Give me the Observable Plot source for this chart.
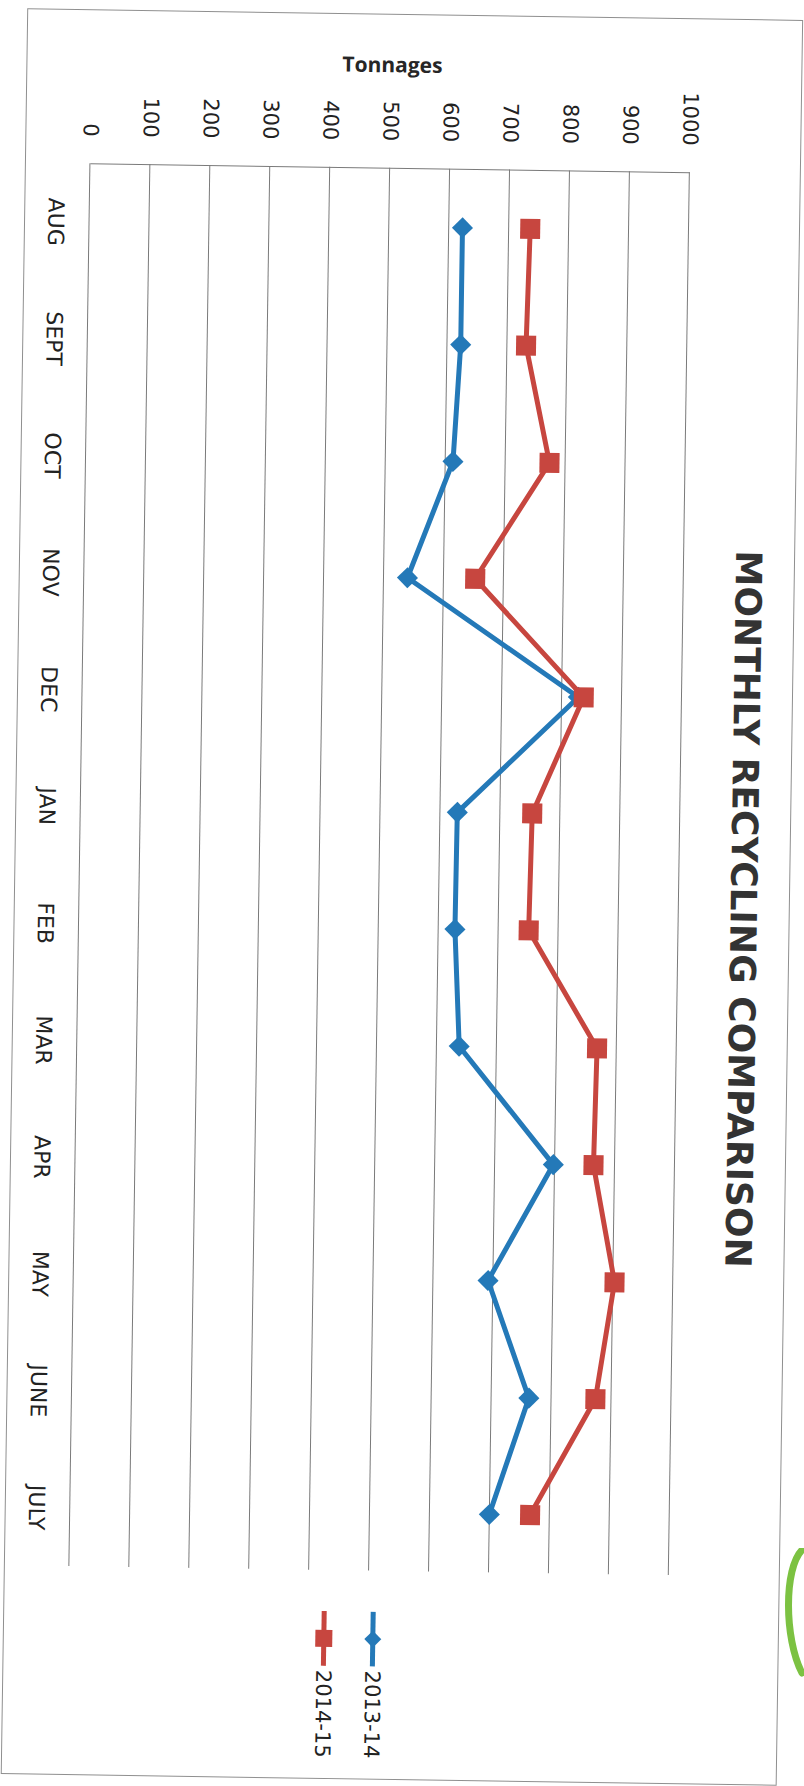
<!DOCTYPE html>
<html>
<head>
<meta charset="utf-8">
<script src="https://cdn.jsdelivr.net/npm/d3@7"></script>
<script src="https://cdn.jsdelivr.net/npm/@observablehq/plot@0.6"></script>
<style>
html, body { margin: 0; padding: 0; width: 804px; height: 1786px; overflow: hidden; background: #fff; }
#page { position: absolute; left: -491px; top: 491px; width: 1786px; height: 804px;
        transform: rotate(90.86deg); transform-origin: 50% 50%; background: #fff; }
#frame { position: absolute; left: 14px; top: 14px; width: 1766px; height: 776px;
         border: 1.5px solid #8f8f8f; box-sizing: border-box; }
#chart { position: absolute; left: 0; top: 0; }
#title { position: absolute; left: 904px; top: 61px; transform: translate(-50%, -50%);
         font: bold 36px "DejaVu Sans", sans-serif; color: #333; white-space: nowrap; line-height: 1; }
#ylabel { position: absolute; left: 65px; top: 424px; transform: translate(-50%, -50%) rotate(-90deg);
          font: bold 21px "Open Sans", sans-serif; color: #262626; white-space: nowrap; line-height: 1; }
#legend { position: absolute; left: 1612px; top: 395px; font: 21px "DejaVu Sans", sans-serif; color: #222; }
.row { display: flex; align-items: center; height: 49px; }
.row span { margin-left: 4px; }
#logo { position: absolute; left: 782px; top: 1548px; }
</style>
</head>
<body>
<div id="page">
  <div id="frame"></div>
  <div id="chart"></div>
  <div id="title">MONTHLY RECYCLING COMPARISON</div>
  <div id="ylabel">Tonnages</div>
  <div id="legend"></div>
</div>
<svg id="logo" width="22" height="130"><path d="M20 2 C 2 20, 2 90, 20 125" fill="none" stroke="#7cc242" stroke-width="7" stroke-linecap="round"/></svg>
<script>
// ---- data ----
const months = ["AUG", "SEPT", "OCT", "NOV", "DEC", "JAN", "FEB", "MAR", "APR", "MAY", "JUNE", "JULY"];
const series = ["2013-14", "2014-15"];
const tonnes2013 = [623, 623, 613, 540, 828, 629, 628, 638, 798, 692, 763, 700];
const tonnes2014 = [736, 732, 774, 653, 837, 754, 751, 868, 865, 903, 874, 768];
const yTicks = [0, 100, 200, 300, 400, 500, 600, 700, 800, 900, 1000];
const colors = ["#2479b8", "#c7463f"];
const symbols = ["diamond2", "square"];
const markerR = [9.5, 11.3];

const values = [tonnes2013, tonnes2014];
const bySeries = series.map((s, k) => months.map((m, i) => ({i, month: m, series: s, value: values[k][i]})));

const seriesMarks = [];
series.forEach((s, k) => {
  seriesMarks.push(Plot.line(bySeries[k], {x: "i", y: "value", stroke: colors[k], strokeWidth: 5}));
  seriesMarks.push(Plot.dot(bySeries[k], {x: "i", y: "value", symbol: () => symbols[k], fill: colors[k], stroke: "none", r: markerR[k]}));
});

const chart = Plot.plot({
  width: 1786,
  height: 804,
  marginLeft: 168,
  marginRight: 215,
  marginTop: 125,
  marginBottom: 79.5,
  style: {fontFamily: "DejaVu Sans, sans-serif", color: "#222", background: "transparent"},
  x: {type: "linear", domain: [-0.5, months.length - 0.5]},
  y: {domain: [yTicks[0], yTicks[yTicks.length - 1]]},
  symbol: {type: "identity"},
  marks: [
    Plot.gridY(yTicks, {stroke: "#7a7a7a", strokeOpacity: 1, strokeWidth: 1}),
    Plot.ruleX([-0.5], {stroke: "#7a7a7a", strokeWidth: 1}),
    Plot.axisY(yTicks, {tickSize: 0, tickPadding: 27, fontSize: 21, label: null, tickFormat: d => String(d)}),
    Plot.axisX(d3.range(months.length), {tickSize: 0, tickPadding: 25, fontSize: 22, label: null, tickFormat: i => months[i]}),
    ...seriesMarks
  ]
});
document.getElementById("chart").appendChild(chart);

// ---- legend ----
const legend = document.getElementById("legend");
const legendSizes = [184, 289];
const legendSym = [d3.symbolDiamond2, d3.symbolSquare];
series.forEach((s, k) => {
  const row = document.createElement("div");
  row.className = "row";
  const sw = d3.create("svg").attr("width", 55).attr("height", 22);
  sw.append("line").attr("x1", 0).attr("x2", 55).attr("y1", 11).attr("y2", 11)
    .attr("stroke", colors[k]).attr("stroke-width", 5);
  sw.append("path").attr("transform", "translate(27.5,11)")
    .attr("d", d3.symbol(legendSym[k], legendSizes[k])()).attr("fill", colors[k]);
  row.appendChild(sw.node());
  const t = document.createElement("span");
  t.textContent = s;
  row.appendChild(t);
  legend.appendChild(row);
});
</script>
</body>
</html>
